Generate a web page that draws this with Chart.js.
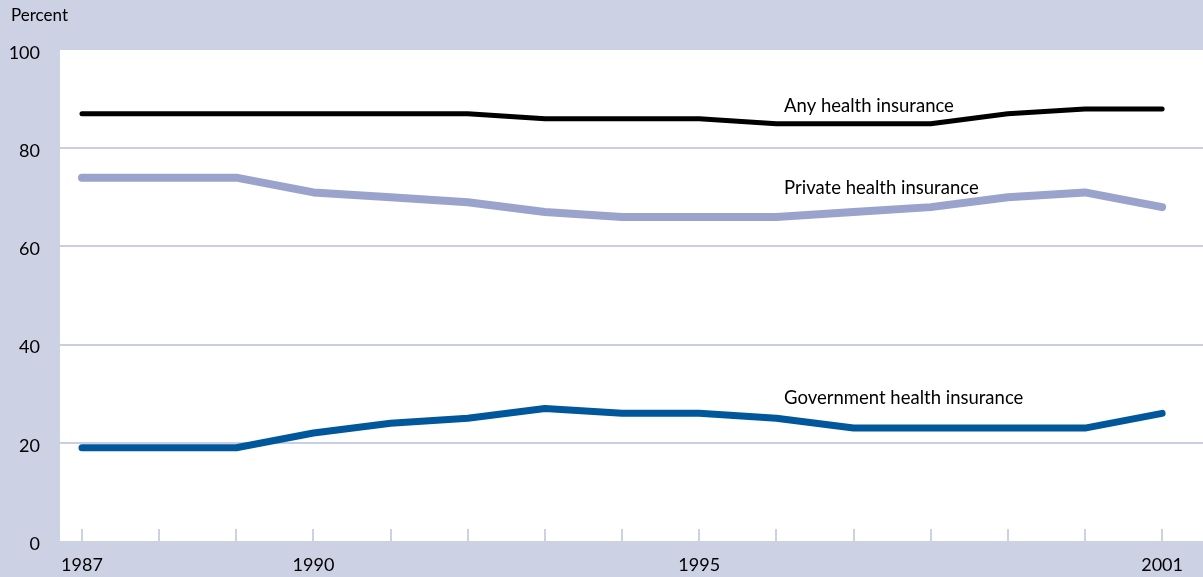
<!doctype html>
<html lang="en">
<head>
<meta charset="utf-8">
<title>Health insurance coverage</title>
<style>
  html, body { margin: 0; padding: 0; background: #cdd1e4; }
  #wrap { width: 1203px; height: 577px; }
</style>
</head>
<body>
<div id="wrap"><canvas id="chart"></canvas></div>
<script src="https://cdn.jsdelivr.net/npm/chart.js"></script>
<script>
const years = [1987, 1988, 1989, 1990, 1991, 1992, 1993, 1994, 1995, 1996, 1997, 1998, 1999, 2000, 2001];
const anyInsurance = [87, 87, 87, 87, 87, 87, 86, 86, 86, 85, 85, 85, 87, 88, 88];
const privateInsurance = [74, 74, 74, 71, 70, 69, 67, 66, 66, 66, 67, 68, 70, 71, 68];
const governmentInsurance = [19, 19, 19, 22, 24, 25, 27, 26, 26, 25, 23, 23, 23, 23, 26];
const labeledYears = [1987, 1990, 1995, 2001];
const seriesNames = ['Any health insurance', 'Private health insurance', 'Government health insurance'];

const FONT = 'Lato, "Open Sans", sans-serif';
const LAVENDER = '#cdd1e4';

const toPoints = arr => arr.map((v, i) => ({ x: years[i], y: v }));

// background + white plot area
const panel = {
  id: 'panel',
  beforeDraw(chart) {
    const { ctx, chartArea: { left, right, top, bottom } } = chart;
    ctx.save();
    ctx.fillStyle = LAVENDER;
    ctx.fillRect(0, 0, chart.width, chart.height);
    ctx.fillStyle = '#ffffff';
    ctx.fillRect(left, top, right - left, bottom - top);
    ctx.restore();
  },
  afterDraw(chart) {
    const { ctx } = chart;
    ctx.save();
    ctx.fillStyle = '#000';
    ctx.font = '17px ' + FONT;
    ctx.textBaseline = 'middle';
    ctx.fillText('Percent', 11, 16);
    ctx.restore();
  }
};

// small year ticks inside the plot, along the bottom
const innerTicks = {
  id: 'innerTicks',
  beforeDatasetsDraw(chart) {
    const { ctx, chartArea: { bottom }, scales: { x } } = chart;
    ctx.save();
    ctx.strokeStyle = LAVENDER;
    ctx.lineWidth = 2;
    ctx.beginPath();
    years.forEach(yr => {
      const px = Math.round(x.getPixelForValue(yr));
      ctx.moveTo(px, bottom);
      ctx.lineTo(px, bottom - 12);
    });
    ctx.stroke();
    ctx.restore();
  }
};

// series names written next to the lines
const seriesLabels = {
  id: 'seriesLabels',
  afterDatasetsDraw(chart) {
    const { ctx, scales: { x, y } } = chart;
    const spots = [[1996.1, 88.6], [1996.1, 71.9], [1996.1, 29.1]];
    ctx.save();
    ctx.fillStyle = '#000';
    ctx.font = '18.5px ' + FONT;
    ctx.textBaseline = 'middle';
    seriesNames.forEach((name, i) => {
      ctx.fillText(name, x.getPixelForValue(spots[i][0]), y.getPixelForValue(spots[i][1]));
    });
    ctx.restore();
  }
};

new Chart(document.querySelector('#chart'), {
  type: 'line',
  data: {
    datasets: [
      {
        label: seriesNames[0],
        data: toPoints(anyInsurance),
        borderColor: '#000000',
        borderWidth: 5
      },
      {
        label: seriesNames[1],
        data: toPoints(privateInsurance),
        borderColor: '#9aa3cc',
        borderWidth: 8
      },
      {
        label: seriesNames[2],
        data: toPoints(governmentInsurance),
        borderColor: '#00579b',
        borderWidth: 7
      }
    ]
  },
  options: {
    responsive: true,
    maintainAspectRatio: false,
    animation: false,
    layout: { padding: { top: 50, right: 0, left: 0, bottom: 0 } },
    elements: {
      point: { radius: 0 },
      line: { tension: 0, borderCapStyle: 'round', borderJoinStyle: 'round' }
    },
    plugins: {
      legend: { display: false },
      tooltip: { enabled: false }
    },
    scales: {
      x: {
        type: 'linear',
        min: 1986.715,
        max: 2001.53,
        afterBuildTicks(axis) {
          axis.ticks = years.map(v => ({ value: v }));
        },
        afterFit(axis) { axis.height = 36; },
        border: { display: false },
        grid: { display: false },
        ticks: {
          autoSkip: false,
          maxRotation: 0,
          padding: 5,
          color: '#000',
          font: { family: FONT, size: 18 },
          callback: v => labeledYears.includes(v) ? String(v) : ''
        }
      },
      y: {
        min: 0,
        max: 100,
        afterFit(axis) { axis.width = 60; },
        border: { display: false },
        grid: {
          color: ctx => (ctx.tick.value === 0 || ctx.tick.value === 100) ? 'rgba(0,0,0,0)' : '#c9cee4',
          lineWidth: 2,
          drawTicks: false
        },
        ticks: {
          stepSize: 20,
          padding: 20,
          labelOffset: 3,
          color: '#000',
          font: { family: FONT, size: 18 }
        }
      }
    }
  },
  plugins: [panel, innerTicks, seriesLabels]
});
</script>
</body>
</html>
